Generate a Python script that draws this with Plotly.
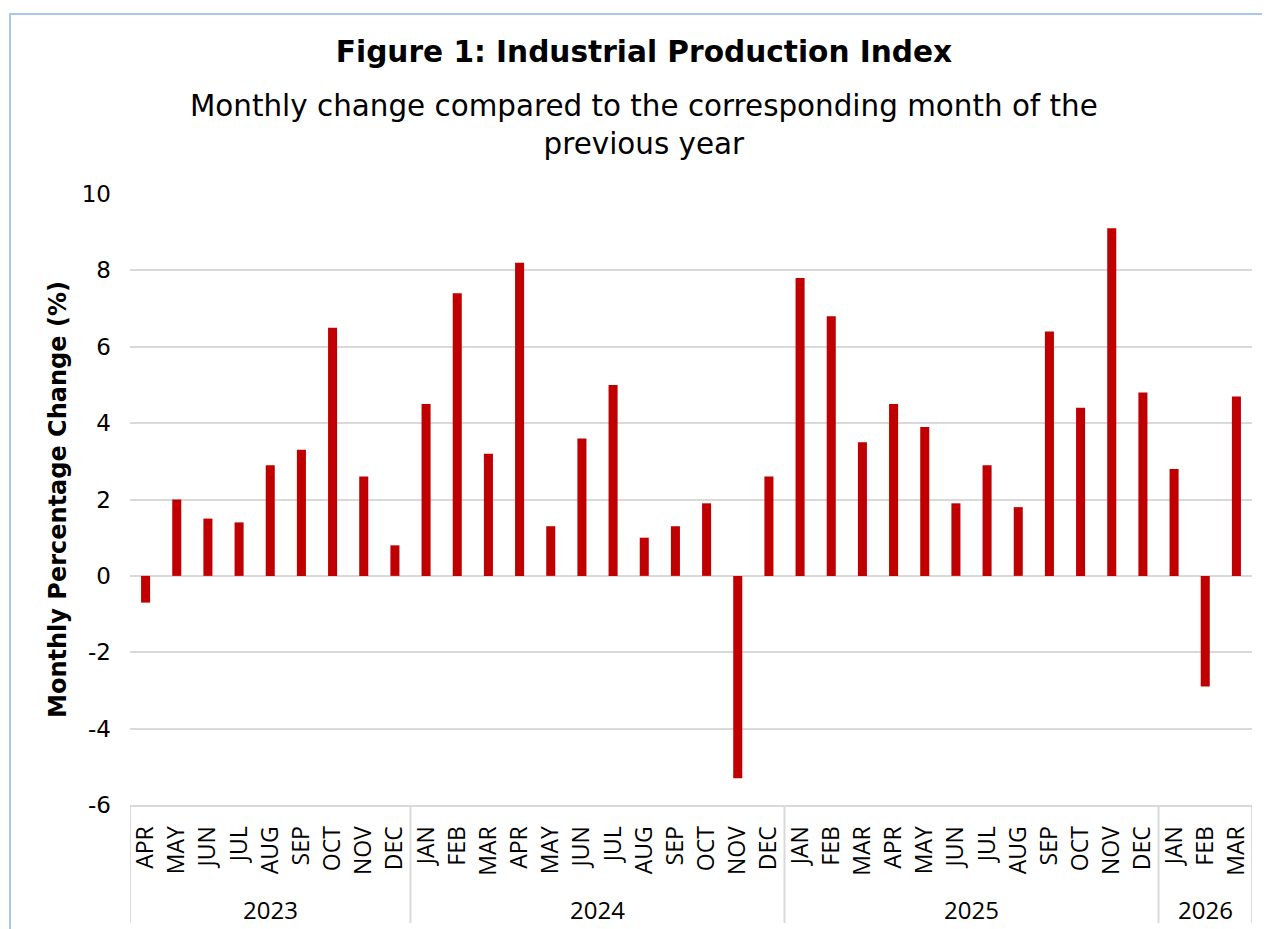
import plotly.graph_objects as go

# ---- data ----
years = ["2023", "2024", "2025", "2026"]
months_2023 = ["APR", "MAY", "JUN", "JUL", "AUG", "SEP", "OCT", "NOV", "DEC"]
values_2023 = [-0.7, 2.0, 1.5, 1.4, 2.9, 3.3, 6.5, 2.6, 0.8]
months_2024 = ["JAN", "FEB", "MAR", "APR", "MAY", "JUN", "JUL", "AUG", "SEP", "OCT", "NOV", "DEC"]
values_2024 = [4.5, 7.4, 3.2, 8.2, 1.3, 3.6, 5.0, 1.0, 1.3, 1.9, -5.3, 2.6]
months_2025 = ["JAN", "FEB", "MAR", "APR", "MAY", "JUN", "JUL", "AUG", "SEP", "OCT", "NOV", "DEC"]
values_2025 = [7.8, 6.8, 3.5, 4.5, 3.9, 1.9, 2.9, 1.8, 6.4, 4.4, 9.1, 4.8]
months_2026 = ["JAN", "FEB", "MAR"]
values_2026 = [2.8, -2.9, 4.7]
y_ticks = [-6, -4, -2, 0, 2, 4, 6, 8, 10]

title_text = "Figure 1: Industrial Production Index"
subtitle_text = "Monthly change compared to the corresponding month of the<br>previous year"
y_title = "Monthly Percentage Change (%)"

month_groups = [months_2023, months_2024, months_2025, months_2026]
value_groups = [values_2023, values_2024, values_2025, values_2026]

x_idx, x_month, y_vals = [], [], []
group_bounds = []  # (start, end) index of each year
for ms, vs in zip(month_groups, value_groups):
    start = len(x_idx)
    for m, v in zip(ms, vs):
        x_idx.append(len(x_idx))
        x_month.append(m)
        y_vals.append(v)
    group_bounds.append((start, len(x_idx) - 1))

# ---- layout geometry ----
# The page body has an 8px margin, so the figure is drawn offset by (8, 8)
OFF = 8
W, H = 1270 - OFF, 929 - OFF
L, R, T, B = 130 - OFF, 18, 194 - OFF, 124
PW, PH = W - L - R, H - T - B


def px_x(px):
    """screen x pixel -> paper coordinate"""
    return (px - OFF - L) / PW


def px_y(py):
    """screen y pixel -> paper coordinate"""
    return (H - B - (py - OFF)) / PH


GRID = "#D9D9D9"

fig = go.Figure(go.Bar(
    x=x_idx,
    y=y_vals,
    customdata=x_month,
    marker=dict(color="#C00000", line=dict(width=0)),
    hovertemplate="%{customdata}: %{y}<extra></extra>",
))

shapes = [dict(
    type="rect", xref="paper", yref="paper",
    x0=px_x(10), x1=px_x(1320), y0=px_y(980), y1=px_y(14),
    line=dict(color="#A9C6EE", width=2), fillcolor="rgba(0,0,0,0)",
    layer="below",
)]
annotations = [dict(
    text=subtitle_text,
    xref="paper", yref="paper",
    x=px_x(644), y=px_y(125),
    xanchor="center", yanchor="middle",
    showarrow=False,
    font=dict(family="DejaVu Sans", size=29.4, color="#000000"),
)]

# year group dividers and labels (category-axis style)
divider_positions = [group_bounds[0][0] - 0.5] + [e + 0.5 for _, e in group_bounds]
for xd in divider_positions:
    shapes.append(dict(
        type="line", xref="x", yref="paper",
        x0=xd, x1=xd, y0=0, y1=px_y(923),
        line=dict(color=GRID, width=2),
    ))
for yr, (s, e) in zip(years, group_bounds):
    annotations.append(dict(
        text=yr, xref="x", yref="paper",
        x=(s + e) / 2, y=px_y(909),
        xanchor="center", yanchor="middle", showarrow=False,
        font=dict(family="Open Sans", size=24, color="#000000"),
    ))

fig.update_layout(
    width=W, height=H,
    margin=dict(l=L, r=R, t=T, b=B),
    paper_bgcolor="white",
    plot_bgcolor="white",
    bargap=0.71,
    showlegend=False,
    font=dict(family="DejaVu Sans", color="#000000"),
    title=dict(
        text="<b>" + title_text + "</b>",
        font=dict(family="DejaVu Sans", size=29.6, color="#000000"),
        x=(644 - OFF) / W, xref="container", xanchor="center",
        y=1 - (52 - OFF) / H, yref="container", yanchor="middle",
    ),
    annotations=annotations,
    shapes=shapes,
)

fig.update_xaxes(
    range=[divider_positions[0], divider_positions[-1]],
    tickmode="array",
    tickvals=x_idx,
    ticktext=x_month,
    tickangle=-90,
    tickfont=dict(family="Open Sans", size=23, color="#000000"),
    showline=True,
    linecolor=GRID,
    linewidth=2,
    showgrid=False,
    zeroline=False,
    ticks="",
    ticklabelstandoff=10,
    automargin=False,
)

fig.update_yaxes(
    range=[y_ticks[0], y_ticks[-1]],
    tickmode="array",
    tickvals=y_ticks,
    ticktext=[str(t) for t in y_ticks],
    showgrid=True, gridcolor=GRID, gridwidth=2,
    zeroline=True, zerolinecolor=GRID, zerolinewidth=2,
    tickfont=dict(family="DejaVu Sans", size=23, color="#000000"),
    ticks="",
    ticklabelstandoff=18,
    automargin=False,
    title=dict(text="<b>" + y_title + "</b>",
               font=dict(family="DejaVu Sans", size=24, color="#000000"),
               standoff=8),
)

fig.write_html("out.html")
